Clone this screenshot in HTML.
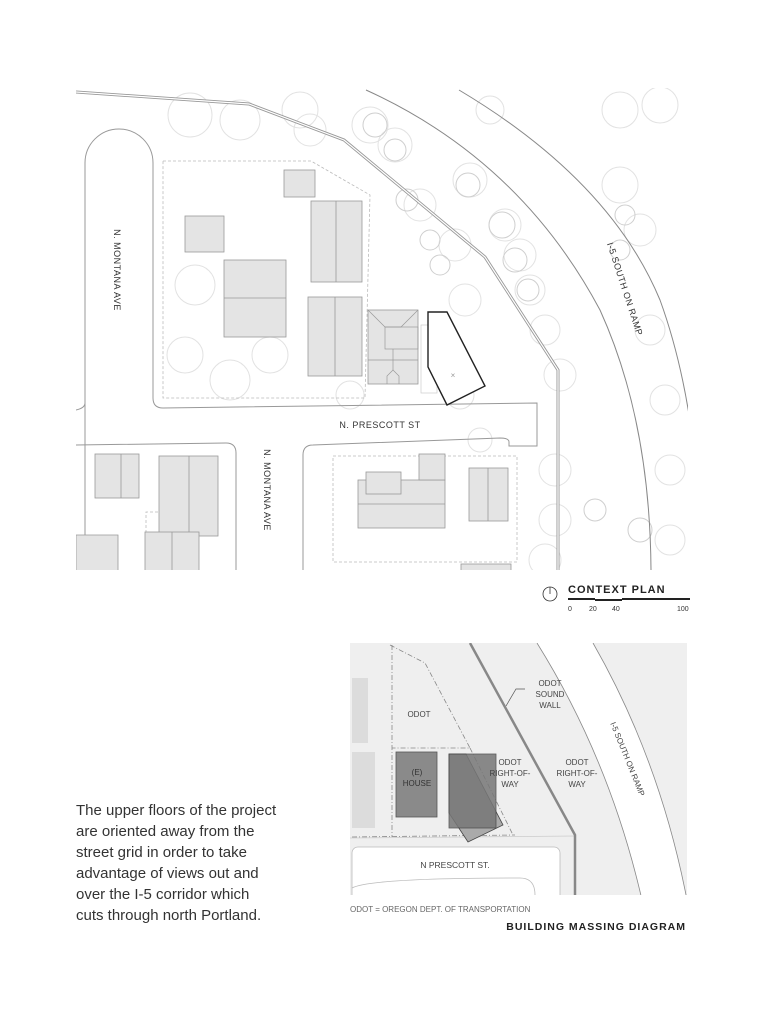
<!DOCTYPE html>
<html><head><meta charset="utf-8"><style>
html,body{margin:0;padding:0;background:#fff;width:780px;height:1010px;overflow:hidden}
svg{display:block}
text{font-family:"Liberation Sans",Arial,sans-serif}
</style></head><body>
<svg width="780" height="1010" viewBox="0 0 780 1010" xmlns="http://www.w3.org/2000/svg">
<defs><clipPath id="c1"><rect x="76" y="88" width="612" height="482"/></clipPath>
<clipPath id="c2"><rect x="350" y="643" width="337" height="252"/></clipPath></defs>
<g clip-path="url(#c1)" fill="none">
 <!-- trees -->
 <g stroke="#e2e2e2" stroke-width="1">
  <circle cx="190" cy="115" r="22"/><circle cx="240" cy="120" r="20"/><circle cx="300" cy="110" r="18"/>
  <circle cx="310" cy="130" r="16"/><circle cx="370" cy="125" r="18"/><circle cx="395" cy="145" r="17"/>
  <circle cx="420" cy="205" r="16"/><circle cx="455" cy="245" r="16"/><circle cx="465" cy="300" r="16"/>
  <circle cx="470" cy="180" r="17"/><circle cx="505" cy="225" r="16"/><circle cx="520" cy="255" r="16"/>
  <circle cx="530" cy="290" r="15"/><circle cx="545" cy="330" r="15"/><circle cx="560" cy="375" r="16"/>
  <circle cx="555" cy="470" r="16"/><circle cx="555" cy="520" r="16"/><circle cx="545" cy="560" r="16"/>
  <circle cx="490" cy="110" r="14"/><circle cx="620" cy="110" r="18"/><circle cx="660" cy="105" r="18"/>
  <circle cx="620" cy="185" r="18"/><circle cx="640" cy="230" r="16"/><circle cx="650" cy="330" r="15"/>
  <circle cx="665" cy="400" r="15"/><circle cx="670" cy="470" r="15"/><circle cx="670" cy="540" r="15"/>
  <circle cx="195" cy="285" r="20"/><circle cx="185" cy="355" r="18"/><circle cx="230" cy="380" r="20"/>
  <circle cx="270" cy="355" r="18"/><circle cx="330" cy="340" r="16"/><circle cx="350" cy="395" r="14"/>
  <circle cx="460" cy="395" r="14"/><circle cx="420" cy="500" r="14"/><circle cx="480" cy="440" r="12"/>
 </g>
 <g stroke="#cfcfcf" stroke-width="1">
  <circle cx="375" cy="125" r="12"/><circle cx="395" cy="150" r="11"/><circle cx="407" cy="200" r="11"/>
  <circle cx="468" cy="185" r="12"/><circle cx="502" cy="225" r="13"/><circle cx="515" cy="260" r="12"/>
  <circle cx="528" cy="290" r="11"/><circle cx="430" cy="240" r="10"/><circle cx="440" cy="265" r="10"/>
  <circle cx="625" cy="215" r="10"/><circle cx="620" cy="250" r="10"/><circle cx="595" cy="510" r="11"/><circle cx="640" cy="530" r="12"/>
 </g>
 <!-- sound wall -->
 <polyline points="76,92 249,104 344,140 485,257 558,370 558,570" stroke="#999" stroke-width="3"/>
 <polyline points="76,92 249,104 344,140 485,257 558,370 558,570" stroke="#fff" stroke-width="1.2"/>
 <!-- ramp -->
 <path d="M366,90 Q520,160 600,310 Q650,420 651,570" stroke="#888" stroke-width="1"/>
 <path d="M459,90 Q610,180 660,300 Q700,410 701,570" stroke="#888" stroke-width="1"/>
 <!-- streets -->
 <g stroke="#999" stroke-width="1">
  <path d="M85,570 L85,403 M85,403 Q85,408 76,410"/>
  <path d="M85,403 L85,163 A34,34 0 0 1 153,163 L153,398 Q153,408 163,408 L537,403 L537,446 L509,446 L509,442 Q509,438 500,438 L313,445 Q303,445 303,455 L303,570"/>
  <path d="M76,445 L226,443 Q236,443 236,453 L236,570"/>
 </g>
 <!-- lot lines -->
 <g stroke="#bbb" stroke-width="0.8" stroke-dasharray="3,2">
  <polyline points="163,161 311,161 370,195 365,398 163,398 163,161"/>
  <rect x="333" y="456" width="184" height="106"/>
  <polyline points="146,568 146,512 159,512"/>
 </g>
 <!-- buildings -->
 <g fill="#e4e4e4" stroke="#999" stroke-width="0.8">
  <rect x="284" y="170" width="31" height="27"/>
  <rect x="185" y="216" width="39" height="36"/>
  <rect x="224" y="260" width="62" height="77"/><line x1="224" y1="298" x2="286" y2="298"/>
  <rect x="311" y="201" width="51" height="81"/><line x1="336" y1="201" x2="336" y2="282"/>
  <rect x="308" y="297" width="54" height="79"/><line x1="335" y1="297" x2="335" y2="376"/>
  <rect x="368" y="310" width="50" height="74"/>
  <rect x="95" y="454" width="44" height="44"/><line x1="121" y1="454" x2="121" y2="498"/>
  <rect x="159" y="456" width="59" height="80"/><line x1="189" y1="456" x2="189" y2="536"/>
  <rect x="145" y="532" width="54" height="40"/><line x1="172" y1="532" x2="172" y2="570"/>
  <polygon points="76,535 118,535 118,572 76,572"/>
  <rect x="358" y="480" width="87" height="48"/><line x1="358" y1="504" x2="445" y2="504"/>
  <rect x="366" y="472" width="35" height="22"/>
  <rect x="419" y="454" width="26" height="26"/>
  <rect x="469" y="468" width="39" height="53"/><line x1="488" y1="468" x2="488" y2="521"/>
  <rect x="461" y="564" width="50" height="10"/>
 </g>
 <g stroke="#999" stroke-width="0.7" fill="none">
  <polyline points="368,310 385,327 401,327 418,310"/><rect x="385" y="327" width="33" height="22"/>
  <line x1="368" y1="360" x2="418" y2="360"/><line x1="393" y1="349" x2="393" y2="370"/>
  <polyline points="387,384 387,376 393,370 399,376 399,384"/>
  <rect x="421" y="325" width="16" height="68" stroke="#ccc"/>
 </g>
 <polygon points="428,312 447,312 485,386 447,405 428,367" fill="#fff" stroke="#222" stroke-width="1.4"/>
 <text x="453" y="378" font-size="8" fill="#999" text-anchor="middle">×</text>
 <!-- labels -->
 <g fill="#333" font-size="9" letter-spacing="0.5">
  <text transform="translate(114,270) rotate(90)" text-anchor="middle">N. MONTANA AVE</text>
  <text transform="translate(264,490) rotate(90)" text-anchor="middle">N. MONTANA AVE</text>
  <text x="380" y="428" text-anchor="middle">N. PRESCOTT ST</text>
  <text transform="translate(622,290) rotate(72)" text-anchor="middle">I-5 SOUTH ON RAMP</text>
 </g>
</g>
<!-- context plan legend -->
<circle cx="550" cy="594" r="7" fill="none" stroke="#333" stroke-width="0.8"/>
<line x1="550" y1="587" x2="550" y2="594" stroke="#333" stroke-width="0.8"/>
<text x="568" y="593" font-size="11" font-weight="bold" fill="#222" letter-spacing="1">CONTEXT PLAN</text>
<rect x="568" y="598" width="27" height="2" fill="#222"/><rect x="595" y="599" width="27" height="2" fill="#222"/><rect x="622" y="598" width="68" height="2" fill="#222"/>
<g font-size="7" fill="#333"><text x="568" y="611">0</text><text x="589" y="611">20</text><text x="612" y="611">40</text><text x="677" y="611">100</text></g>

<!-- massing diagram -->
<rect x="350" y="643" width="337" height="252" fill="#efefef"/>
<g clip-path="url(#c2)">
 <path d="M537,643 Q610,760 642,900 L687,900 Q660,760 593,643 Z" fill="#fff"/>
 <path d="M537,643 Q610,760 642,900" fill="none" stroke="#888" stroke-width="0.8"/>
 <path d="M593,643 Q660,760 687,900" fill="none" stroke="#888" stroke-width="0.8"/>
 <rect x="352" y="847" width="208" height="60" rx="6" fill="#fff" stroke="#bbb" stroke-width="0.8"/>
 <path d="M352,888 Q370,878 520,878 Q535,878 535,895" fill="none" stroke="#bbb" stroke-width="0.8"/>
 <line x1="350" y1="838" x2="575" y2="836" stroke="#ccc" stroke-width="0.8"/>
 <rect x="352" y="678" width="16" height="65" fill="#dcdcdc"/>
 <rect x="352" y="752" width="23" height="76" fill="#dcdcdc"/>
 <g fill="none" stroke="#888" stroke-width="0.8" stroke-dasharray="5,2,1,2">
  <polyline points="390,645 425,663 470,748 392,748"/>
  <line x1="392" y1="645" x2="392" y2="837"/>
  <line x1="352" y1="837" x2="515" y2="835"/>
  <line x1="470" y1="748" x2="513" y2="835"/>
 </g>
 <polyline points="470,643 575,835 575,900" fill="none" stroke="#888" stroke-width="2.5"/>
 <rect x="396" y="752" width="41" height="65" fill="#8a8a8a" stroke="#555" stroke-width="0.8"/>
 <polygon points="449,754 466,754 503,825 468,842 449,813" fill="#aaa" stroke="#444" stroke-width="0.8"/>
 <rect x="449" y="754" width="47" height="74" fill="#777" opacity="0.85" stroke="#444" stroke-width="0.8"/>
 <polyline points="506,706 516,689 525,689" fill="none" stroke="#555" stroke-width="0.7"/>
 <g fill="#444" font-size="8" text-anchor="middle">
  <text x="419" y="717">ODOT</text>
  <text x="417" y="775" fill="#333">(E)</text><text x="417" y="786" fill="#333">HOUSE</text>
  <text x="510" y="765">ODOT</text><text x="510" y="776">RIGHT-OF-</text><text x="510" y="787">WAY</text>
  <text x="577" y="765">ODOT</text><text x="577" y="776">RIGHT-OF-</text><text x="577" y="787">WAY</text>
  <text x="550" y="686">ODOT</text><text x="550" y="697">SOUND</text><text x="550" y="708">WALL</text>
  <text x="455" y="868" font-size="8.5">N PRESCOTT ST.</text>
  <text transform="translate(625,760) rotate(68)">I-5 SOUTH ON RAMP</text>
 </g>
</g>
<text x="350" y="912" font-size="8" fill="#666">ODOT = OREGON DEPT. OF TRANSPORTATION</text>
<text x="686" y="930" font-size="10.5" font-weight="bold" fill="#222" text-anchor="end" letter-spacing="1">BUILDING MASSING DIAGRAM</text>

<g font-size="15" fill="#333">
 <text x="76" y="815">The upper floors of the project</text>
 <text x="76" y="836">are oriented away from the</text>
 <text x="76" y="857">street grid in order to take</text>
 <text x="76" y="878">advantage of views out and</text>
 <text x="76" y="899">over the I-5 corridor which</text>
 <text x="76" y="920">cuts through north Portland.</text>
</g>
</svg>
</body></html>
